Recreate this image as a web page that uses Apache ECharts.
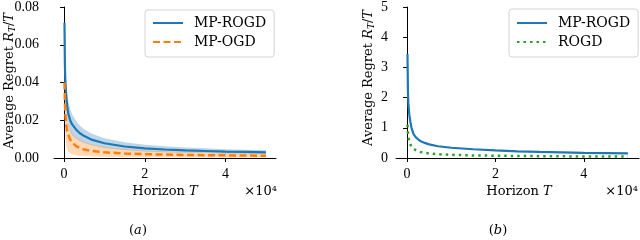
<!DOCTYPE html>
<html><head><meta charset="utf-8">
<script src="https://cdn.jsdelivr.net/npm/echarts@6/dist/echarts.min.js"></script>
<style>html,body{margin:0;padding:0;background:#fff}#c{width:640px;height:240px}</style>
</head><body><div id="c"></div>
<script>
// Horizon T sample points
const horizonT = [100, 200, 300, 500, 750, 1000, 1500, 2000, 3000, 4000, 5000, 7000, 10000, 15000, 20000, 25000, 30000, 35000, 40000, 45000, 50000];
// Panel (a)
const aMpRogd   = [0.0716, 0.050, 0.041, 0.033, 0.028, 0.024, 0.020, 0.0178, 0.0150, 0.0130, 0.0116, 0.0096, 0.0078, 0.0061, 0.0051, 0.0045, 0.0040, 0.0037, 0.0034, 0.0032, 0.0030];
const aMpRogdHi = [0.080, 0.062, 0.052, 0.042, 0.036, 0.031, 0.026, 0.023, 0.0195, 0.017, 0.0152, 0.0127, 0.0104, 0.0083, 0.0070, 0.0062, 0.0056, 0.0051, 0.0047, 0.0044, 0.0041];
const aMpRogdLo = [0.060, 0.040, 0.031, 0.024, 0.020, 0.017, 0.014, 0.012, 0.0102, 0.0090, 0.0080, 0.0066, 0.0053, 0.0042, 0.0035, 0.0031, 0.0028, 0.0026, 0.0024, 0.0023, 0.0022];
const aMpOgd    = [0.040, 0.030, 0.024, 0.018, 0.0145, 0.0125, 0.0098, 0.0082, 0.0063, 0.0052, 0.0045, 0.0037, 0.0030, 0.0024, 0.0020, 0.0018, 0.0016, 0.0015, 0.0014, 0.0013, 0.0012];
const aMpOgdHi  = [0.045, 0.036, 0.030, 0.024, 0.020, 0.018, 0.015, 0.013, 0.011, 0.0095, 0.0085, 0.0072, 0.0060, 0.0048, 0.0040, 0.0035, 0.0031, 0.0029, 0.0027, 0.0025, 0.0024];
const aMpOgdLo  = [0.030, 0.018, 0.012, 0.007, 0.005, 0.0035, 0.0025, 0.0020, 0.0015, 0.0012, 0.0010, 0.0008, 0.0006, 0.0005, 0.0004, 0.0004, 0.0003, 0.0003, 0.0003, 0.0003, 0.0003];
// Panel (b)
const bMpRogd = [3.44, 2.2, 1.8, 1.45, 1.2, 1.0, 0.78, 0.68, 0.56, 0.50, 0.45, 0.39, 0.34, 0.29, 0.25, 0.22, 0.20, 0.185, 0.17, 0.16, 0.15];
const bRogd   = [1.1, 0.85, 0.70, 0.55, 0.45, 0.38, 0.30, 0.26, 0.20, 0.17, 0.15, 0.125, 0.105, 0.085, 0.075, 0.068, 0.060, 0.055, 0.050, 0.048, 0.045];
// Tick labels
const xTicks = [0, 20000, 40000];
const aYTicks = [0, 0.02, 0.04, 0.06, 0.08];
const bYTicks = [0, 1, 2, 3, 4, 5];

const FONT = 'DejaVu Serif';
const TFONT = 'Liberation Serif';
const BLUE = '#1f77b4', ORANGE = '#ff7f0e', GREEN = '#2ca02c';

function pairs(xs, ys){ return xs.map((x,i)=>[x, ys[i]]); }
function band(lo, hi, color, idx){
  return {type:'custom', xAxisIndex:idx, yAxisIndex:idx, data:[[0,0]], silent:true, z:1, clip:true,
    renderItem:(params, api)=>{
      if(params.dataIndex!==0) return;
      const pts=[];
      for(let i=0;i<horizonT.length;i++) pts.push(api.coord([horizonT[i], hi[i]]));
      for(let i=horizonT.length-1;i>=0;i--) pts.push(api.coord([horizonT[i], lo[i]]));
      return {type:'polygon', shape:{points:pts}, style:{fill:color, opacity:0.3}};
    }};
}
function xAxis(idx){
  return {type:'value', gridIndex:idx, min:-2500, max:52500,
    axisLine:{lineStyle:{color:'#000', width:1}},
    axisTick:{show:true, length:4, customValues:xTicks, lineStyle:{color:'#000'}},
    axisLabel:{customValues:xTicks, formatter:v=>String(v/10000), color:'#000', fontFamily:TFONT, fontSize:14, margin:9},
    splitLine:{show:false}};
}
function yAxis(idx, max, interval, ticks, fmt, margin){
  return {type:'value', gridIndex:idx, min:0, max:max, interval:interval,
    axisLine:{show:true, lineStyle:{color:'#000'}}, axisTick:{show:true, length:4, lineStyle:{color:'#000'}},
    axisLabel:{customValues:ticks, formatter:fmt, color:'#000', fontFamily:TFONT, fontSize:14, margin:margin},
    splitLine:{show:false}};
}
const legendBase = {orient:'vertical', itemGap:5, itemWidth:30, itemHeight:12,
  borderColor:'#d4d4d4', borderWidth:1, borderRadius:3, backgroundColor:'rgba(255,255,255,0.8)',
  itemStyle:{opacity:0},
  textStyle:{fontFamily:FONT, fontSize:14, color:'#000', padding:[0,0,0,6]}};
const titleRich = {i:{fontFamily:FONT, fontSize:13, fontStyle:'italic'}, s:{fontFamily:FONT, fontSize:9, fontStyle:'italic', verticalAlign:'bottom', padding:[6,0,0,0]}, n:{fontFamily:FONT, fontSize:13}};
const chart = echarts.init(document.getElementById('c'), null, {renderer:'canvas'});
chart.setOption({
  animation:false,
  grid:[{left:54, top:5, width:222, height:153}, {left:396, top:5, width:243, height:153}],
  xAxis:[xAxis(0), xAxis(1)],
  yAxis:[
    yAxis(0, 0.08, 0.02, aYTicks, v=>v.toFixed(2), 15),
    yAxis(1, 5, 1, bYTicks, v=>String(v), 8)
  ],
  legend:[
    Object.assign({}, legendBase, {data:['MP-ROGD','MP-OGD'], left:145, top:10, padding:[6,8,8,7]}),
    Object.assign({}, legendBase, {data:['MP-ROGD','ROGD'], left:509, top:9, padding:[7,8,8,7]})
  ],
  series:[
    band(aMpRogdLo, aMpRogdHi, BLUE, 0),
    band(aMpOgdLo, aMpOgdHi, ORANGE, 0),
    {name:'MP-ROGD', type:'line', xAxisIndex:0, yAxisIndex:0, data:pairs(horizonT, aMpRogd), symbol:'none', z:3,
     lineStyle:{color:BLUE, width:2.2}, itemStyle:{color:BLUE}},
    {name:'MP-OGD', type:'line', xAxisIndex:0, yAxisIndex:0, data:pairs(horizonT, aMpOgd), symbol:'none', z:3,
     lineStyle:{color:ORANGE, width:2.5, type:[7,3.5]}, itemStyle:{color:ORANGE}},
    {name:'MP-ROGD', type:'line', xAxisIndex:1, yAxisIndex:1, data:pairs(horizonT, bMpRogd), symbol:'none', z:3,
     lineStyle:{color:BLUE, width:2.2}, itemStyle:{color:BLUE}},
    {name:'ROGD', type:'line', xAxisIndex:1, yAxisIndex:1, data:pairs(horizonT, bRogd), symbol:'none', z:3,
     lineStyle:{color:GREEN, width:2.5, type:[2.5,4]}, itemStyle:{color:GREEN}}
  ],
  graphic:[
    {type:'text', x:10, y:81, rotation:Math.PI/2, style:{
      text:'Average Regret {i|R}{s|T}{n|/}{i|T}', fontFamily:FONT, fontSize:13, fill:'#000', align:'center', verticalAlign:'middle', rich:titleRich}},
    {type:'text', x:369, y:78, rotation:Math.PI/2, style:{
      text:'Average Regret {i|R}{s|T}{n|/}{i|T}', fontFamily:FONT, fontSize:13, fill:'#000', align:'center', verticalAlign:'middle', rich:titleRich}},
    {type:'text', x:165, y:192, style:{text:'Horizon {i|T}', fontFamily:FONT, fontSize:13, fill:'#000', align:'center', verticalAlign:'middle', rich:{i:{fontFamily:FONT, fontSize:13, fontStyle:'italic'}}}},
    {type:'text', x:277, y:192, style:{text:'×10⁴', fontFamily:FONT, fontSize:13, fill:'#000', align:'right', verticalAlign:'middle'}},
    {type:'text', x:519, y:192, style:{text:'Horizon {i|T}', fontFamily:FONT, fontSize:13, fill:'#000', align:'center', verticalAlign:'middle', rich:{i:{fontFamily:FONT, fontSize:13, fontStyle:'italic'}}}},
    {type:'text', x:638, y:192, style:{text:'×10⁴', fontFamily:FONT, fontSize:13, fill:'#000', align:'right', verticalAlign:'middle'}},
    {type:'text', x:138, y:231, style:{text:'({i|a})', fontFamily:FONT, fontSize:13, fill:'#000', align:'center', verticalAlign:'middle', rich:{i:{fontFamily:FONT, fontSize:13, fontStyle:'italic'}}}},
    {type:'text', x:498, y:231, style:{text:'({i|b})', fontFamily:FONT, fontSize:13, fill:'#000', align:'center', verticalAlign:'middle', rich:{i:{fontFamily:FONT, fontSize:13, fontStyle:'italic'}}}}
  ]
});
</script></body></html>
